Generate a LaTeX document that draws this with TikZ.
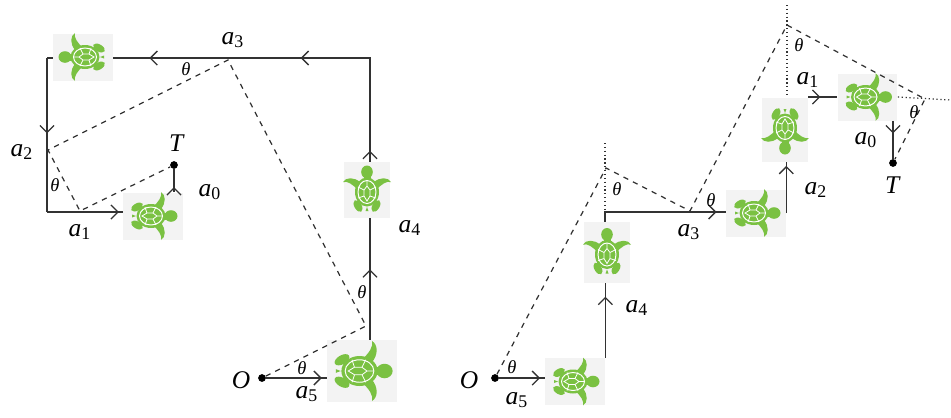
\documentclass[tikz,border=0pt]{standalone}
\usepackage{fontspec}
\setmainfont{Liberation Serif}
\usetikzlibrary{arrows.meta,decorations.markings}
\definecolor{tgreen}{RGB}{122,193,66}
\definecolor{boxgray}{RGB}{243,243,243}
\definecolor{linecol}{RGB}{50,50,50}
\newcommand{\lbl}[2]{\textit{#1}\textsubscript{#2}}
\tikzset{
  sb/.tip={Straight Barb[length=4pt,width=8pt,line width=0.75pt]},
  marr/.style={postaction={decorate,decoration={markings,mark=at position #1 with {\arrow{sb}}}}},
  path/.style={draw=linecol,line width=0.85pt},
  dashpath/.style={draw=linecol,line width=0.7pt,dash pattern=on 3pt off 3pt},
  dotpath/.style={draw=linecol,line width=0.7pt,dash pattern=on 0.7pt off 1.5pt},
  dot/.style={circle,fill=black,inner sep=0pt,minimum size=4.4pt},
  tboxH/.style={fill=boxgray,inner sep=0pt,minimum width=1.2cm,minimum height=0.94cm},
  tboxV/.style={fill=boxgray,inner sep=0pt,minimum width=0.94cm,minimum height=1.2cm},
  tboxL/.style={fill=boxgray,inner sep=0pt,minimum width=1.4cm,minimum height=1.24cm},
  lab/.style={inner sep=0pt,font=\fontsize{14.5}{16}\selectfont},
  th/.style={inner sep=0pt,font=\fontsize{10.5}{12}\selectfont\itshape},
  turtle/.pic={
    \fill[tgreen,rotate around={-30:(-16,9)}] (-16,9) ellipse[x radius=6.5,y radius=3.6];
    \fill[tgreen,rotate around={30:(-16,-9)}] (-16,-9) ellipse[x radius=6.5,y radius=3.6];
    \fill[tgreen] (0,9) .. controls (6,15) and (9,19) .. (8,24) .. controls (13,21) and (13,13) .. (8,7) -- cycle;
    \fill[tgreen] (0,-9) .. controls (6,-15) and (9,-19) .. (8,-24) .. controls (13,-21) and (13,-13) .. (8,-7) -- cycle;
    \fill[tgreen] (-17,0) -- (-21,1.5) -- (-21,-1.5) -- cycle;
    \fill[tgreen] (9,-3.5) rectangle (14,3.5);
    \fill[tgreen] (18,0) ellipse[x radius=6.5,y radius=5.8];
    \fill[tgreen] (-2,0) ellipse[x radius=14.5,y radius=12];
    \draw[white,line width=0.55pt] (-2,0) ellipse[x radius=11.5,y radius=9];
    \draw[white,line width=0.45pt] (-8,-9) -- (-6,-3) -- (0,-3) -- (3,-9)
      (-6,-3) -- (-11,0) -- (-6,3) -- (0,3) -- (3,9) (-6,3) -- (-8,9)
      (0,-3) -- (4,0) -- (0,3) (4,0) -- (9.5,0);
  }
}
\begin{document}
\begin{tikzpicture}[x=0.02cm,y=-0.02cm]
\useasboundingbox (0,0) rectangle (951,417);
% ---------------- left diagram ----------------
\node[tboxH] (t2) at (83,57) {};
\pic[rotate=180] at (t2) {turtle};
\node[tboxH] (t1) at (153,216) {};
\pic at (t1) {turtle};
\node[tboxV,minimum height=1.12cm] (t4) at (367,190) {};
\pic[rotate=90] at (t4) {turtle};
\node[tboxL] (t5) at (362,371) {};
\pic[scale=1.25] at (t5) {turtle};
\node[dot] (O) at (262,378) {};
\node[dot] (T) at (174,165) {};
\coordinate (C1) at (370,58);
\coordinate (C2) at (47,58);
\coordinate (C3) at (47,212);
\coordinate (P1) at (366,326);
\coordinate (P2) at (228,60);
\coordinate (P3) at (48,150);
\coordinate (P4) at (80,211);

\path[path,marr=0.92] (O) -- (O -| t5.west);
\path[path,marr=0.58] (t5.north -| C1) -- (t4.south -| C1);
\path[path,marr=0.03,marr=0.48,marr=0.9] (t4.north -| C1) -- (C1) -- (t2.east |- C1);
\path[path] (t2.west |- C2) -- (C2);
\path[path,marr=0.49] (C2) -- (C3);
\path[path,marr=0.95] (C3) -- (C3 -| t1.west);
\path[path,marr=0.22] (t1.north -| T) -- (T);
\path[dashpath] (O) -- (P1) -- (P2) -- (P3) -- (P4) -- (T);

\node[lab] (la3) at (233,40) {\lbl{a}{3}};
\node[lab] (la2) at (22,152) {\lbl{a}{2}};
\node[lab] (lT) at (177,143) {\textit{T}};
\node[lab] (la0) at (210,192) {\lbl{a}{0}};
\node[lab] (la1) at (80,232) {\lbl{a}{1}};
\node[lab] (la4) at (410,228) {\lbl{a}{4}};
\node[lab] (lO) at (241,380) {\textit{O}};
\node[lab] (la5) at (307,394) {\lbl{a}{5}};
\node[th] (th1) at (186,69) {θ};
\node[th] (th2) at (55,185) {θ};
\node[th] (th3) at (362,292) {θ};
\node[th] (th4) at (302,368) {θ};
% ---------------- right diagram ----------------
\node[tboxH] (r5) at (575,381.5) {};
\pic at (r5) {turtle};
\node[tboxV,minimum height=1.22cm] (r4) at (607,252.5) {};
\pic[rotate=90] at (r4) {turtle};
\node[tboxH] (r3) at (756,213) {};
\pic at (r3) {turtle};
\node[tboxV,minimum width=0.92cm,minimum height=1.28cm] (r2) at (785,130) {};
\pic[rotate=-90] at (r2) {turtle};
\node[tboxH] (r1) at (867.5,97) {};
\pic at (r1) {turtle};
\node[dot] (O2) at (495,378) {};
\node[dot] (T2) at (893,163) {};
\coordinate (D1) at (605,212);
\coordinate (D0) at (605,143);
\coordinate (E0) at (787,5);
\coordinate (F1) at (951,100);
\coordinate (A1) at (606,168);
\coordinate (B1) at (690,211);
\coordinate (A2) at (787,25);
\coordinate (B2) at (925,99);

\path[path,marr=0.9] (O2) -- (O2 -| r5.west);
\path[path,marr=0.82] (r5.north east) -- (r4.south -| r5.north east);
\path[path,marr=0.93] (r4.north -| D1) -- (D1) -- (D1 -| r3.west);
\path[path,marr=0.93] (r3.east) -- (r2.south -| r3.east);
\path[path,marr=0.42] (r2.east |- r1.west) -- (r1.west);
\path[path,marr=0.33] (r1.south -| T2) -- (T2);
\path[dotpath] (D0) -- (D1);
\path[dotpath] (E0) -- (r2.north -| E0);
\path[dotpath] (r1.east) -- (F1);
\path[dashpath] (O2) -- (A1) -- (B1) -- (A2) -- (B2) -- (T2);

\node[lab] (lO2) at (469,380) {\textit{O}};
\node[lab] (la5r) at (517,400) {\lbl{a}{5}};
\node[lab] (la4r) at (637,308) {\lbl{a}{4}};
\node[lab] (la3r) at (689,232) {\lbl{a}{3}};
\node[lab] (la2r) at (816,190) {\lbl{a}{2}};
\node[lab] (la1r) at (808,80) {\lbl{a}{1}};
\node[lab] (la0r) at (866,140) {\lbl{a}{0}};
\node[lab] (lT2) at (893,185) {\textit{T}};
\node[th] (th5) at (512,367) {θ};
\node[th] (th6) at (617,189) {θ};
\node[th] (th7) at (711,200) {θ};
\node[th] (th8) at (799,45) {θ};
\node[th] (th9) at (914,112) {θ};
\end{tikzpicture}
\end{document}
